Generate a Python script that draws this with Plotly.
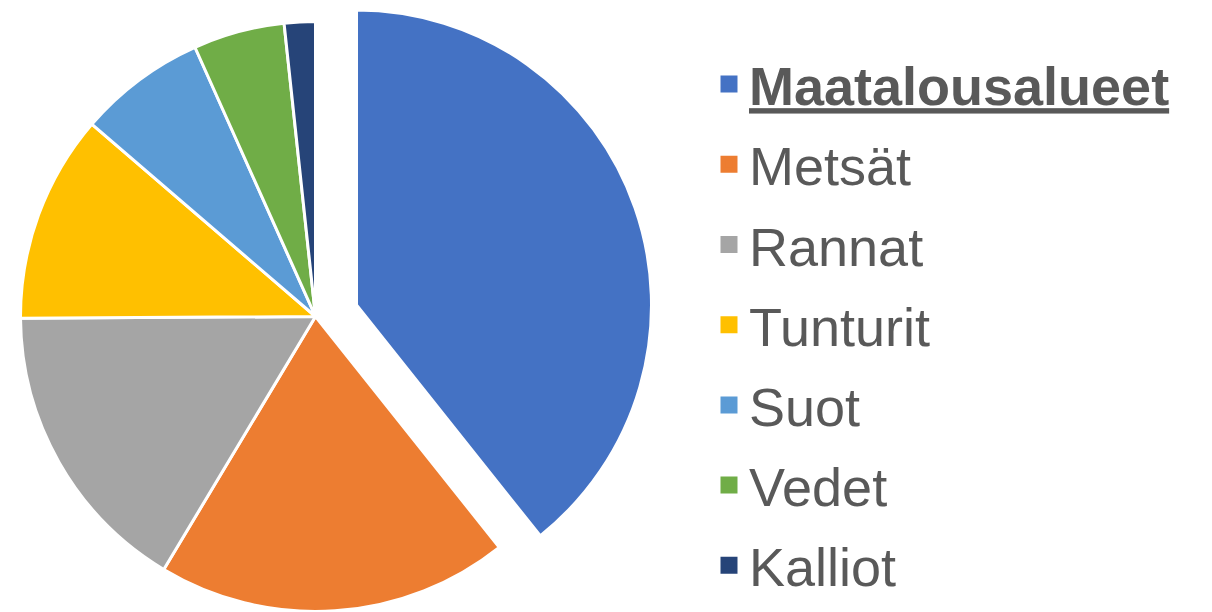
import plotly.graph_objects as go

# ---- data ----
labels = ["Maatalousalueet", "Metsät", "Rannat", "Tunturit", "Suot", "Vedet", "Kalliot"]
values = [39.3, 19.3, 16.3, 11.4, 7.0, 5.0, 1.7]
colors = ["#4472C4", "#ED7D31", "#A5A5A5", "#FFC000", "#5B9BD5", "#70AD47", "#264478"]
legend_labels = ["<b><u>Maatalousalueet</u></b>", "Metsät", "Rannat", "Tunturit", "Suot", "Vedet", "Kalliot"]
pulled_index = 0

# ---- layout parameters (pixels) ----
W, H = 1212, 612
PAGE_OFFSET = 8                     # default body margin of the html page
cx, cy = 315.5 - PAGE_OFFSET, 316.5 - PAGE_OFFSET   # pie centre in figure pixels
r = 295.0                           # radius
explode_dx, explode_dy = 41.0, -11.5  # offset of the exploded slice
TRANSPARENT = "rgba(0,0,0,0)"

def clamp(v):
    return min(1.0, max(0.0, v))

def domain(cxp, cyp, rad):
    return dict(x=[clamp((cxp - rad) / W), clamp((cxp + rad) / W)],
                y=[clamp((H - cyp - rad) / H), clamp((H - cyp + rad) / H)])

main_colors = [TRANSPARENT if i == pulled_index else c for i, c in enumerate(colors)]
main_lines = [TRANSPARENT if i == pulled_index else "white" for i in range(len(colors))]
pull_colors = [c if i == pulled_index else TRANSPARENT for i, c in enumerate(colors)]
pull_lines = ["white" if i == pulled_index else TRANSPARENT for i in range(len(colors))]

fig = go.Figure()

# legend carriers: one tiny, invisible pie per category (own legend group for spacing)
for i, (lab, val, col) in enumerate(zip(legend_labels, values, colors)):
    fig.add_trace(go.Pie(
        labels=[lab], values=[val], sort=False,
        marker=dict(colors=[col], line=dict(color=col, width=5)),
        textinfo="none", hoverinfo="skip",
        domain=dict(x=[0, 0.0004], y=[0, 0.0004]),
        legendgroup=f"g{i}", showlegend=True,
    ))

# main pie (all slices except the exploded one)
fig.add_trace(go.Pie(
    labels=legend_labels, values=values, sort=False, direction="clockwise", rotation=0,
    marker=dict(colors=main_colors, line=dict(color=main_lines, width=3)),
    textinfo="none", domain=domain(cx, cy, r), showlegend=False,
))

# exploded slice
fig.add_trace(go.Pie(
    labels=legend_labels, values=values, sort=False, direction="clockwise", rotation=0,
    marker=dict(colors=pull_colors, line=dict(color=pull_lines, width=3)),
    textinfo="none", domain=domain(cx + explode_dx, cy + explode_dy, r), showlegend=False,
))

fig.update_layout(
    width=W, height=H,
    margin=dict(l=0, r=0, t=0, b=0),
    paper_bgcolor="white", plot_bgcolor="white",
    font=dict(family="Liberation Sans, Arial, sans-serif", color="#595959"),
    legend=dict(
        x=(709 - PAGE_OFFSET) / W, y=1 - (325 - PAGE_OFFSET) / H,
        xanchor="left", yanchor="middle",
        font=dict(size=54, color="#595959", family="Liberation Sans, Arial, sans-serif"),
        bgcolor="rgba(0,0,0,0)", traceorder="grouped", tracegroupgap=7,
    ),
)

fig.write_html("out.html")
